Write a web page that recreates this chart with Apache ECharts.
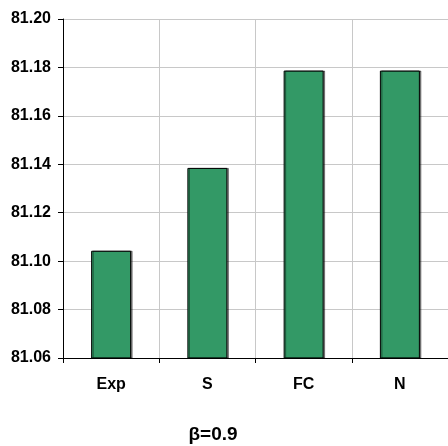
<!DOCTYPE html>
<html>
<head>
<meta charset="utf-8">
<script src="https://cdn.jsdelivr.net/npm/echarts@6/dist/echarts.min.js"></script>
<style>
html,body{margin:0;padding:0;background:#fff;}
#chart{width:448px;height:446px;}
</style>
</head>
<body>
<div id="chart"></div>
<script>
const categories = ['Exp', 'S', 'FC', 'N'];
const values = [81.1043, 81.1385, 81.1787, 81.1787];
const yMin = 81.06, yMax = 81.20, yStep = 0.02;
const caption = 'β=0.9';

const font = "'Liberation Sans', Arial, sans-serif";
const chart = echarts.init(document.getElementById('chart'), null, {renderer: 'canvas'});
chart.setOption({
  animation: false,
  backgroundColor: '#fff',
  title: {
    text: caption,
    left: 208, top: 420, textAlign: 'center',
    textStyle: {fontFamily: font, fontWeight: 'bold', fontSize: 19, color: '#000'}
  },
  grid: {left: 63, top: 19, bottom: 88, right: -4, containLabel: false},
  xAxis: {
    type: 'category',
    data: categories,
    boundaryGap: true,
    axisLine: {show: true, lineStyle: {color: '#000', width: 1}},
    axisTick: {show: true, alignWithLabel: false, length: 5, lineStyle: {color: '#000'}},
    axisLabel: {margin: 19, fontFamily: font, fontWeight: 'bold', fontSize: 16, color: '#000'},
    splitLine: {show: true, lineStyle: {color: '#c8c8c8', width: 1}}
  },
  yAxis: {
    type: 'value',
    min: yMin, max: yMax, interval: yStep,
    axisLine: {show: true, lineStyle: {color: '#000', width: 1}},
    axisTick: {show: true, length: 5, lineStyle: {color: '#000'}},
    axisLabel: {margin: 12, fontFamily: font, fontWeight: 'bold', fontSize: 16, color: '#000',
      formatter: v => v.toFixed(2)},
    splitLine: {show: true, lineStyle: {color: '#c8c8c8', width: 1}}
  },
  series: [{
    type: 'bar',
    data: values,
    barWidth: 40,
    itemStyle: {color: '#339966', borderColor: '#000', borderWidth: 1,
      shadowColor: 'rgba(0,0,0,0.45)', shadowOffsetX: 1.5, shadowOffsetY: 0, shadowBlur: 0}
  }]
});
</script>
</body>
</html>
